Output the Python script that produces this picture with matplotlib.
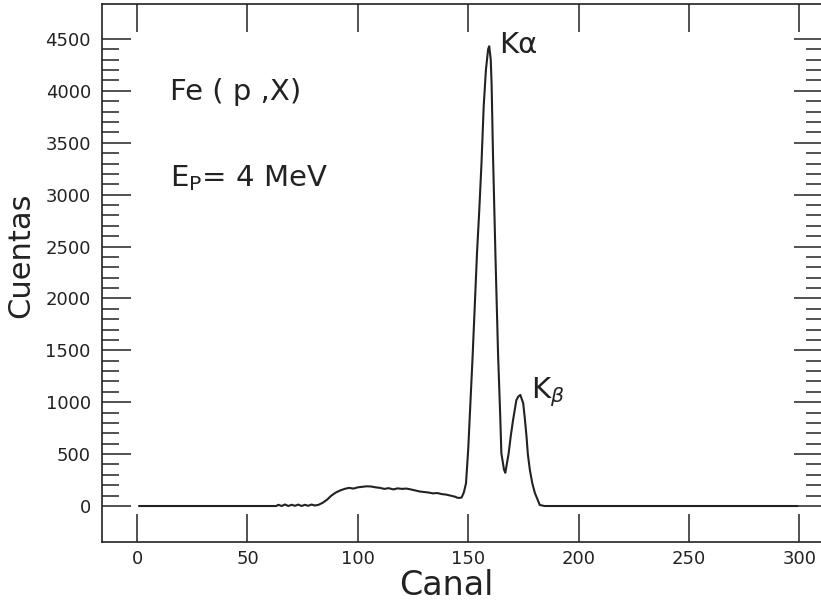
import matplotlib.pyplot as plt
from matplotlib.ticker import FixedLocator

# espectro PIXE de Fe
canal = [1, 63, 64, 65.5, 67, 68.5, 70, 71.5, 73, 74.5, 76, 77.5, 79, 80.5,
         82, 84, 86, 88, 90, 92, 94, 96, 98, 100, 102, 104, 106, 108, 110,
         112, 114, 116, 118, 120, 122, 124, 126, 128, 130, 132, 134, 136,
         138, 140, 142, 144, 145, 146, 147, 148, 149, 150, 151, 152, 153,
         154, 155, 156, 157, 158, 159, 159.5, 160.2, 160.6, 161.2, 162.3,
         163.5, 164.5, 165, 166.2, 166.8, 168.3, 169.3, 170.3, 171.8, 172.7,
         173.6, 174.9, 175.6, 176.4, 177, 177.9, 179, 180.2, 182.4, 184.6,
         299]
cuentas = [0, 0, 12, 0, 15, 0, 12, 2, 14, 0, 12, 2, 14, 5,
           10, 30, 60, 100, 130, 150, 165, 175, 168, 180, 185, 190, 188, 180, 175,
           165, 172, 160, 170, 165, 168, 160, 150, 140, 135, 130, 122, 125,
           115, 110, 100, 90, 80, 78, 82, 130, 220, 550, 1000, 1450, 1950,
           2450, 2850, 3300, 3850, 4200, 4400, 4430, 4300, 4050, 3400, 2435,
           1470, 860, 510, 350, 320, 507, 680, 828, 1020, 1055,
           1070, 990, 850, 670, 500, 350, 220, 125, 10, 0,
           0]

x_ticks = [0, 50, 100, 150, 200, 250, 300]
y_ticks = [0, 500, 1000, 1500, 2000, 2500, 3000, 3500, 4000, 4500]
y_minor = [v for v in range(100, 4500, 100) if v % 500 != 0]

fig = plt.figure(figsize=(8.21, 6.04), dpi=100)
ax = fig.add_axes([0.1242, 0.1026, 0.8788, 0.8908])

ax.plot(canal, cuentas, color='#222222', lw=1.5)

ax.set_xlim(-15.9, 310.9)
ax.set_ylim(-347, 4837)
ax.set_xticks(x_ticks)
ax.set_yticks(y_ticks)
ax.yaxis.set_minor_locator(FixedLocator(y_minor))

ax.tick_params(axis='x', direction='in', length=20, width=1.1, top=True,
               labelsize=13, pad=6, colors='#222222')
ax.tick_params(axis='y', which='major', direction='in', length=21, width=1.1,
               right=True, labelsize=13, pad=8, colors='#222222')
ax.tick_params(axis='y', which='minor', direction='in', length=12, width=1.1,
               right=True, colors='#222222')
for s in ax.spines.values():
    s.set_linewidth(1.2)
    s.set_color('#222222')

ax.set_xlabel('Canal', fontsize=24, color='#222222')
ax.xaxis.set_label_coords(0.477, -0.05)
ax.set_ylabel('Cuentas', fontsize=22, color='#222222')
ax.yaxis.set_label_coords(-0.092, 0.533)

ax.text(15, 3990, 'Fe ( p ,X)', fontsize=21, va='center', color='#222222')
ax.text(15, 3160, r'E$_{\mathsf{P}}$= 4 MeV', fontsize=21, va='center',
        color='#222222')
ax.text(164, 4440, 'K\u03b1', fontsize=21, va='center', color='#222222')
ax.text(178.5, 1100, r'K$_{\beta}$', fontsize=21, va='center', color='#222222')

fig.savefig('out.png', dpi=100)
